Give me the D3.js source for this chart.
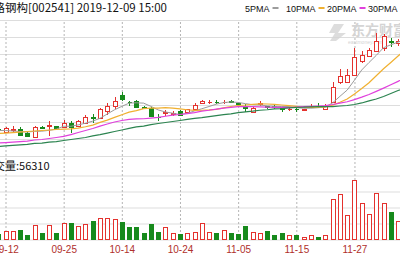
<!DOCTYPE html>
<html lang="zh">
<head>
<meta charset="utf-8">
<title>鸿路钢构 日K</title>
<script src="https://cdn.jsdelivr.net/npm/d3@7/dist/d3.min.js"></script>
<style>
  body { margin: 0; background: #fff; }
  svg { display: block; }
</style>
</head>
<body>
<svg id="chart" width="400" height="260"></svg>
<script>
// trading days shown (first one is only half visible, last ones run off the right edge)
const dates = ["09-11","09-12","09-16","09-17","09-18","09-19","09-20","09-23","09-24","09-25",
  "09-26","09-27","09-30","10-08","10-09","10-10","10-11","10-14","10-15","10-16",
  "10-17","10-18","10-21","10-22","10-23","10-24","10-25","10-28","10-29","10-30",
  "10-31","11-01","11-04","11-05","11-06","11-07","11-08","11-11","11-12","11-13",
  "11-14","11-15","11-18","11-19","11-20","11-21","11-22","11-25","11-26","11-27",
  "11-28","11-29","12-02","12-03","12-04","12-05","12-06","12-09"];
const tickDates = ["09-12","09-25","10-14","10-24","11-05","11-15","11-27","12-09"];

const openP  = [12.58,12.44,12.55,12.56,12.38,12.09,12.71,12.79,12.74,12.68,12.97,12.79,12.97,13.29,13.21,13.62,13.97,14.56,14.18,14.21,
  13.88,13.85,13.32,13.53,13.50,13.62,13.56,13.79,14.09,14.15,14.18,14.15,14.21,14.09,13.94,13.59,14.06,13.94,13.94,13.82,
  13.76,13.79,13.68,13.91,13.97,13.74,14.15,15.38,15.38,15.79,16.56,16.91,17.15,17.38,17.76,17.62,17.80];
const closeP = [12.53,12.62,12.57,12.26,12.15,12.68,12.65,12.82,12.62,12.97,12.71,13.03,13.32,13.24,13.79,13.97,14.26,14.35,14.15,13.91,
  13.85,13.35,13.29,13.56,13.53,13.44,13.74,14.00,14.21,14.18,14.15,14.18,14.18,14.06,13.82,13.82,14.09,13.91,13.91,13.79,
  13.79,13.76,13.76,13.94,13.94,13.97,15.03,15.68,15.79,16.85,16.97,17.21,17.79,18.03,17.68,17.79,17.95];
const highP  = [12.62,12.68,12.74,12.68,12.44,12.74,12.79,13.03,12.79,13.09,13.03,13.09,13.44,13.50,13.85,14.09,14.50,14.74,14.21,14.32,
  13.97,13.91,13.50,13.68,13.62,13.68,13.79,14.09,14.32,14.32,14.32,14.32,14.32,14.12,14.03,13.91,14.21,13.97,14.03,13.91,
  13.88,13.91,13.79,14.03,14.09,14.03,15.38,16.09,16.09,17.38,17.15,17.38,18.26,18.15,17.97,17.91,18.10];
const lowP   = [12.50,12.38,12.38,12.15,12.09,12.03,12.56,12.15,12.56,12.62,12.38,12.74,12.91,12.97,13.15,13.44,13.79,14.21,13.97,13.85,
  13.74,13.32,13.03,13.38,13.38,13.41,13.53,13.74,14.03,14.03,14.03,14.03,14.09,13.91,13.56,13.56,13.97,13.74,13.79,13.56,
  13.62,13.56,13.65,13.82,13.85,13.71,14.09,15.21,15.32,15.68,16.50,16.85,17.09,17.15,17.44,17.50,17.60];
const volume = [15000,22500,22500,25000,12500,37500,17500,37500,17500,42500,42500,35000,40000,47500,55000,55000,52500,45000,32500,32500,
  17500,40000,20000,32500,17500,15000,17500,20000,42500,20000,17500,25000,17500,15000,35000,20000,17500,22500,12500,17500,
  12500,12500,7500,12500,7500,12500,102500,115000,62500,150000,92500,65000,117500,92500,70000,47500,60000];

const ma5  = [12.50,12.50,12.47,12.44,12.41,12.45,12.46,12.51,12.58,12.75,12.75,12.83,12.93,13.05,13.22,13.47,13.72,13.92,14.11,14.13,
  14.11,13.92,13.71,13.59,13.52,13.44,13.51,13.65,13.78,13.91,14.05,14.14,14.18,14.15,14.08,14.02,14.00,13.95,13.92,13.91,
  13.91,13.84,13.81,13.81,13.84,13.88,14.13,14.51,14.88,15.46,16.06,16.50,16.92,17.37,17.54,17.70,17.85];
const ma10 = [12.32,12.35,12.38,12.41,12.44,12.47,12.50,12.53,12.56,12.58,12.60,12.64,12.72,12.82,12.98,13.11,13.27,13.43,13.58,13.67,
  13.79,13.82,13.82,13.85,13.82,13.77,13.72,13.68,13.69,13.71,13.74,13.83,13.91,13.97,14.00,14.04,14.07,14.06,14.04,14.00,
  13.96,13.92,13.88,13.86,13.88,13.89,13.99,14.16,14.35,14.65,14.97,15.31,15.72,16.13,16.50,16.88,17.25];
const ma20 = [11.76,11.79,11.82,11.85,11.88,11.94,11.97,12.03,12.09,12.15,12.26,12.38,12.50,12.62,12.76,12.88,13.00,13.09,13.15,13.18,
  13.19,13.23,13.27,13.34,13.40,13.44,13.49,13.55,13.64,13.69,13.76,13.82,13.86,13.91,13.91,13.90,13.89,13.87,13.86,13.86,
  13.85,13.87,13.90,13.92,13.94,13.96,14.03,14.11,14.19,14.32,14.46,14.62,14.80,14.99,15.19,15.39,15.60];
const ma30 = [11.56,11.59,11.62,11.65,11.68,11.74,11.76,11.82,11.85,11.91,11.97,12.03,12.09,12.18,12.26,12.35,12.44,12.53,12.62,12.71,
  12.76,12.85,12.91,12.97,13.03,13.09,13.15,13.21,13.26,13.32,13.38,13.43,13.48,13.55,13.60,13.64,13.69,13.72,13.77,13.79,
  13.83,13.86,13.87,13.89,13.90,13.90,13.91,13.94,13.97,14.03,14.12,14.24,14.35,14.50,14.68,14.85,15.02];

const maNames  = ["5PMA", "10PMA", "20PMA", "30PMA"];
const maSeries = [ma5, ma10, ma20, ma30];
const maColors = ["#9c9c9c", "#f0b030", "#e040dc", "#2c8450"];

const title = "鸿路钢构[002541] 2019-12-09 15:00";
const volLabel = "成交量:56310";

const UP = "#e4322e", DOWN = "#178a1c", GRID = "#dddddd";
const svg = d3.select("#chart");
const W = +svg.attr("width");

const x = d3.scalePoint().domain(dates).range([-1.77, 412.62]);
const y = d3.scaleLinear().domain([11, 19]).range([156, 20]);
const yVol = d3.scaleLinear().domain([0, 160000]).range([239.5, 175.5]);

const rows = openP.map((o, i) => ({
  date: dates[i], o: o, c: closeP[i], h: highP[i], l: lowP[i], v: volume[i],
  up: closeP[i] >= o
}));
const cx = d => Math.round(x(d.date));

// horizontal grid lines
svg.append("g")
  .call(d3.axisRight(y).tickValues(d3.range(11, 20)).tickSize(W).tickFormat(""))
  .call(g => g.select(".domain").remove())
  .selectAll("line").attr("stroke", GRID);

svg.append("g")
  .call(d3.axisRight(yVol).tickValues([0, 40000, 80000, 120000, 160000]).tickSize(W).tickFormat(""))
  .call(g => g.select(".domain").remove())
  .selectAll("line").attr("stroke", GRID);

// vertical dashed lines + date labels
svg.append("g").attr("transform", "translate(0,240)")
  .call(d3.axisBottom(x).tickValues(tickDates).tickSize(-220).tickFormat(""))
  .call(g => g.select(".domain").remove())
  .selectAll("line").attr("stroke", "#b5b5b5").attr("stroke-dasharray", "2,2");

svg.append("g").attr("transform", "translate(0,240)")
  .attr("font-family", "'Liberation Sans', Arial, sans-serif")
  .call(d3.axisBottom(x).tickValues(tickDates).tickSize(0).tickPadding(6))
  .call(g => g.select(".domain").remove())
  .selectAll("text").attr("fill", "#b0302c").attr("font-size", 10);

// watermark
const mark = svg.append("g").attr("fill", "#d4d4d4");
mark.append("path").attr("d", "M334 24 L344 24 L338 33 L346 33 L336 41 L330 41 L335 33 L329 33 Z")
  .attr("opacity", 0.8);
mark.append("text").attr("x", 351).attr("y", 35)
  .attr("font-family", "'Noto Sans CJK SC', sans-serif").attr("font-size", 14).attr("font-weight", "bold")
  .text("东方财富");
mark.append("text").attr("x", 348).attr("y", 44)
  .attr("font-family", "'Liberation Sans', Arial, sans-serif").attr("font-size", 5)
  .text("eastmoney.com");

// candles
const bodyPath = (top, bottom, c) =>
  `M${c - 1.5},${top} h4 v${bottom - top} h-4 Z`;

const k = svg.append("g").attr("shape-rendering", "crispEdges");
k.selectAll("line").data(rows).join("line")
  .attr("x1", d => cx(d) + 0.5).attr("x2", d => cx(d) + 0.5)
  .attr("y1", d => Math.round(y(d.h))).attr("y2", d => Math.round(y(d.l)))
  .attr("stroke", d => d.up ? UP : DOWN);
k.selectAll("path").data(rows).join("path")
  .attr("d", d => bodyPath(Math.round(y(Math.max(d.o, d.c))) + 0.5,
                           Math.round(y(Math.min(d.o, d.c))) + 0.5, cx(d)))
  .attr("fill", d => d.up ? "#fff" : DOWN)
  .attr("stroke", d => d.up ? UP : DOWN);

// moving averages
maSeries.forEach((s, j) => {
  const pts = s.map((v, i) => ({ date: dates[i], v: v }));
  svg.append("path").datum(pts)
    .attr("fill", "none")
    .attr("stroke", maColors[j])
    .attr("stroke-width", j === 0 ? 1 : 1.2)
    .attr("d", d3.line().x(d => x(d.date)).y(d => y(d.v)));
});

// volume bars
svg.append("g").attr("shape-rendering", "crispEdges")
  .selectAll("path").data(rows).join("path")
  .attr("d", d => bodyPath(Math.round(yVol(d.v)) + 0.5, 239.5, cx(d)))
  .attr("fill", d => d.up ? "#fff" : DOWN)
  .attr("stroke", d => d.up ? UP : DOWN);

// texts
svg.append("text").attr("x", -18).attr("y", 12)
  .attr("font-family", "'Noto Sans CJK SC', sans-serif").attr("font-size", 11.5)
  .attr("fill", "#111").text(title);

svg.append("text").attr("x", -17).attr("y", 170)
  .attr("font-family", "'Noto Sans CJK SC', sans-serif").attr("font-size", 11)
  .attr("fill", "#111").text(volLabel);

const legend = svg.append("g")
  .attr("font-family", "'Liberation Sans', Arial, sans-serif").attr("font-size", 9).attr("fill", "#111");
maNames.forEach((name, j) => {
  const lx = 245 + j * 41;
  const t = legend.append("text").attr("x", lx).attr("y", 11.5).text(name);
  const w = t.node().getComputedTextLength();
  legend.append("rect").attr("x", lx + w + 3).attr("y", 7).attr("width", 6).attr("height", 2)
    .attr("fill", maColors[j]);
});
</script>
</body>
</html>
